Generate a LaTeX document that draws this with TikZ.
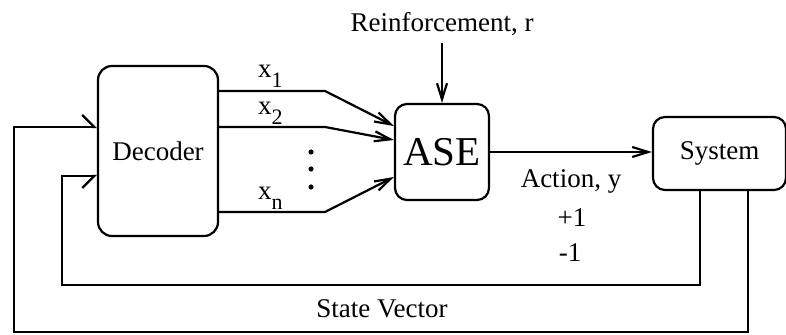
\documentclass[tikz,border=0pt]{standalone}
\usepackage{fontspec}
\setmainfont{Liberation Serif}
\usetikzlibrary{arrows.meta}
\newcommand\xidx[1]{x\raisebox{-5pt}{\fontsize{11}{12}\selectfont #1}}
\begin{document}
\begin{tikzpicture}[
    x=0.5pt, y=-0.5pt,
    line width=1.1pt,
    font=\fontsize{13.5}{16}\selectfont,
    block/.style={draw, rounded corners=7pt, inner sep=0pt},
    pfeil/.style={-{Straight Barb[length=8pt,width=5pt]}},
    pfeilo/.style={-{Straight Barb[harpoon,length=6pt,width=12pt]}},
    pfeilu/.style={-{Straight Barb[harpoon,swap,length=6pt,width=12pt]}},
    punkt/.style={circle, fill=black, inner sep=0pt, minimum size=2.6pt}
  ]
  \useasboundingbox (0,0) rectangle (786,335);
  % Bloecke
  \node[block, minimum width=60pt, minimum height=85pt] (dec) at (158,151) {Decoder};
  \node[block, minimum width=47pt, minimum height=48pt, rounded corners=6pt,
        font=\fontsize{20.5}{24}\selectfont] (ase) at (442,152) {ASE};
  \node[block, minimum width=66.5pt, minimum height=36.5pt, rounded corners=6pt] (sys) at (719.5,153.5) {System};
  % Texte
  \node (rein) at (442,24) {Reinforcement, r};
  \node[anchor=base west, inner sep=0pt] (lx1) at (257,78) {\xidx{1}};
  \node[anchor=base west, inner sep=0pt] (lx2) at (257,115) {\xidx{2}};
  \node[anchor=base west, inner sep=0pt] (lxn) at (257,200) {\xidx{n}};
  \node[punkt] (p1) at (311,152) {};
  \node[punkt] (p2) at (311,169) {};
  \node[punkt] (p3) at (311,187) {};
  \node[anchor=base] (act) at (571,188) {Action, y};
  \node[anchor=base] (plus) at (572,227) {+1};
  \node[anchor=base] (minus) at (570,262) {-1};
  \node[anchor=base] (state) at (382,318) {State Vector};
  % Knickpunkte
  \coordinate (k1) at (325,91);
  \coordinate (k2) at (325,127);
  \coordinate (kn) at (325,212);
  \coordinate (u1) at (700,285);
  \coordinate (u2) at (62,285);
  \coordinate (o1) at (748,332);
  \coordinate (o2) at (14,332);
  % Verbindungen
  \draw[pfeil] (dec.east |- k1) -- (k1) -- ([yshift=13pt]ase.west);
  \draw[pfeil] (dec.east |- k2) -- (k2) -- ([yshift=6pt]ase.west);
  \draw[pfeil] (dec.east |- kn) -- (kn) -- ([yshift=-12.5pt]ase.west);
  \draw[pfeil] (rein) -- (ase);
  \draw[pfeil] (ase.east) -- (ase.east -| sys.west);
  \draw[pfeilu] (sys.south -| u1) -- (u1) -- (u2) |- ([yshift=-12.5pt]dec.west);
  \draw[pfeilo] (sys.south -| o1) -- (o1) -- (o2) |- ([yshift=12pt]dec.west);
\end{tikzpicture}
\end{document}
